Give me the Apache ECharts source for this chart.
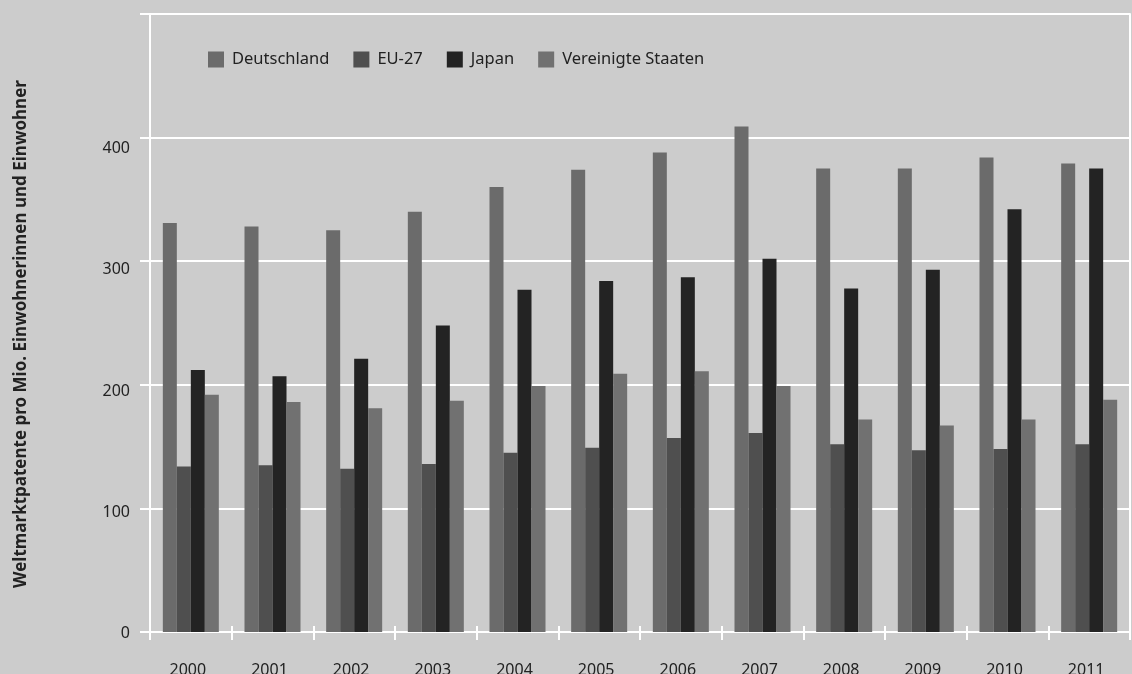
<!DOCTYPE html>
<html>
<head>
<meta charset="utf-8">
<script src="https://cdn.jsdelivr.net/npm/echarts@6/dist/echarts.min.js"></script>
<style>
html,body{margin:0;padding:0;background:#cccccc;}
#chart{width:1132px;height:674px;}
</style>
</head>
<body>
<div id="chart"></div>
<script>
const years = ['2000','2001','2002','2003','2004','2005','2006','2007','2008','2009','2010','2011'];
const deutschland = [331, 328, 325, 340, 360, 374, 388, 409, 375, 375, 384, 379];
const eu27 = [134, 135, 132, 136, 145, 149, 157, 161, 152, 147, 148, 152];
const japan = [212, 207, 221, 248, 277, 284, 287, 302, 278, 293, 342, 375];
const usa = [192, 186, 181, 187, 199, 209, 211, 199, 172, 167, 172, 188];
const yTicks = [0, 100, 200, 300, 400, 500];
const seriesNames = ['Deutschland', 'EU-27', 'Japan', 'Vereinigte Staaten'];

const FONT = 'Noto Sans';
const TXT = '#222222';
const labelPad = {0: 2, 100: 9, 200: 13, 300: 16, 400: 22};
const rich = {};
Object.keys(labelPad).forEach(k => {
  rich['o' + k] = {padding: [labelPad[k], 0, 0, 0], fontSize: 16, fontFamily: FONT, color: TXT};
});

const chart = echarts.init(document.getElementById('chart'));
const barBase = {type: 'bar', barWidth: 14, barGap: '0%', xAxisIndex: 0, yAxisIndex: 0};
chart.setOption({
  backgroundColor: '#cccccc',
  animation: false,
  legend: {
    left: 208, top: 51, padding: 0,
    itemWidth: 16, itemHeight: 16, itemGap: 24,
    icon: 'rect',
    textStyle: {fontFamily: FONT, fontSize: 16.5, color: TXT, padding: [0, 0, 0, 3]},
    data: seriesNames
  },
  grid: {left: 150, right: 2, top: 14, bottom: 42, containLabel: false, outerBoundsMode: 'none'},
  xAxis: [{
    type: 'category', data: years, position: 'bottom',
    axisLine: {show: true, lineStyle: {color: '#ffffff', width: 2}},
    axisTick: {show: true, length: 8, lineStyle: {color: '#ffffff', width: 2}},
    axisLabel: {fontFamily: FONT, fontSize: 16, color: TXT, margin: 30, padding: [0, 6, 0, 0]}
  }, {
    type: 'category', data: years, position: 'bottom',
    axisLine: {show: false},
    axisTick: {show: true, inside: true, length: 6, lineStyle: {color: '#ffffff', width: 2}},
    axisLabel: {show: false}
  }],
  yAxis: [{
    type: 'value', min: 0, max: 500, interval: 100,
    name: 'Weltmarktpatente pro Mio. Einwohnerinnen und Einwohner',
    nameLocation: 'middle', nameGap: 120, nameRotate: 90,
    nameTextStyle: {fontFamily: FONT, fontSize: 17, fontWeight: 'bold', color: TXT, padding: [0, 22, 0, 0]},
    axisLine: {show: true, lineStyle: {color: '#ffffff', width: 2}},
    axisTick: {show: true, length: 10, lineStyle: {color: '#ffffff', width: 2}},
    splitLine: {show: true, lineStyle: {color: '#ffffff', width: 2}},
    axisLabel: {
      margin: 20, fontFamily: FONT, fontSize: 16, color: TXT,
      formatter: v => (v === 500 ? '' : '{o' + v + '|' + v + '}'),
      rich: rich
    }
  }, {
    type: 'value', min: 0, max: 500, interval: 100, position: 'right',
    axisLine: {show: true, lineStyle: {color: '#ffffff', width: 2}},
    axisTick: {show: false}, axisLabel: {show: false}, splitLine: {show: false}
  }],
  series: [
    Object.assign({}, barBase, {name: seriesNames[0], data: deutschland, itemStyle: {color: '#6b6b6b'}}),
    Object.assign({}, barBase, {name: seriesNames[1], data: eu27, itemStyle: {color: '#4f4f4f'}}),
    Object.assign({}, barBase, {name: seriesNames[2], data: japan, itemStyle: {color: '#232323'}}),
    Object.assign({}, barBase, {name: seriesNames[3], data: usa, itemStyle: {color: '#717171'}})
  ]
});
</script>
</body>
</html>
